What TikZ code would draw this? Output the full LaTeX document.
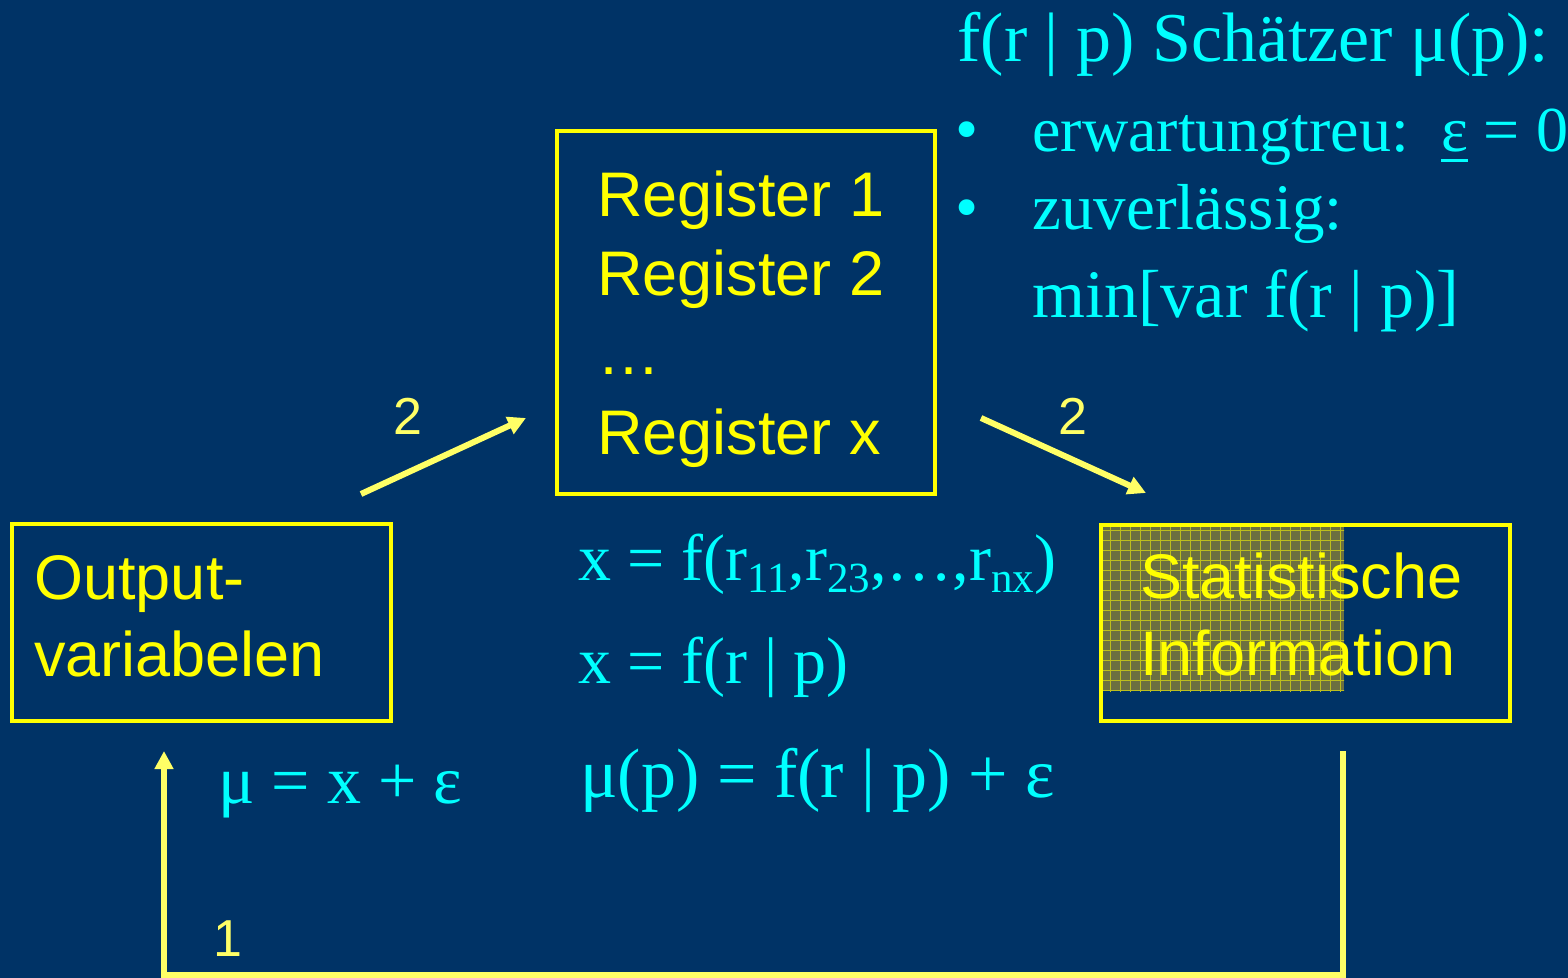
\documentclass[tikz,border=0pt]{standalone}
\usepackage{fontspec}
\setmainfont{Liberation Serif}
\newfontfamily\arial{Liberation Sans}
\usetikzlibrary{arrows.meta}
\definecolor{bg}{RGB}{0,51,102}
\definecolor{yel}{RGB}{255,255,0}
\definecolor{ayel}{RGB}{255,255,102}
\definecolor{cy}{RGB}{0,255,255}
\definecolor{hatch}{RGB}{108,112,64}
\newcommand{\fs}[1]{\fontsize{#1}{#1}\selectfont}
\newcommand{\sbs}[1]{\raisebox{-6pt}{\fs{21.5}#1}}
\newcommand{\ulin}[1]{\leavevmode\setbox0=\hbox{#1}\rlap{\rule[-5pt]{\wd0}{1.6pt}}\box0\relax}
\begin{document}
\begin{tikzpicture}[x=0.5pt,y=-0.5pt,
  box/.style={draw=yel,line width=2pt,inner sep=0pt},
  txt/.style={inner sep=0pt,anchor=base west},
  ytxt/.style={txt,text=yel,font=\arial\fs{31.5}},
  ctxt/.style={txt,text=cy},
  num/.style={txt,text=ayel,font=\arial\fs{26}},
  conn/.style={draw=ayel,line width=3pt,-{Triangle[length=9pt,width=9pt]}}]
\useasboundingbox (0,0) rectangle (1568,978);
\fill[bg] (0,0) rectangle (1568,978);
% highlight
\fill[hatch] (1103,527) rectangle (1344,691);
\begin{scope}
\clip (1103,527) rectangle (1344,691);
\draw[yel!55!hatch,line width=0.35pt,step=5pt] (1100,520) grid (1350,700);
\end{scope}
% boxes
\node[box,minimum width=189pt,minimum height=181.5pt] (reg) at (746,312.5) {};
\node[box,minimum width=189.5pt,minimum height=98.5pt] (out) at (201.5,622.5) {};
\node[box,minimum width=204.5pt,minimum height=98pt] (stat) at (1305.5,622.5) {};
% box texts
\node[ytxt] (r1) at (597,217) {Register 1};
\node[ytxt] (r2) at (597,296) {Register 2};
\node[ytxt] (r3) at (597,375) {…};
\node[ytxt] (r4) at (597,454) {Register x};
\node[ytxt] (o1) at (34,599) {Output-};
\node[ytxt] (o2) at (34,676) {variabelen};
\node[ytxt] (s1) at (1140,598) {Statistische};
\node[ytxt] (s2) at (1140,675) {Information};
% connectors
\coordinate (a1s) at (361,494);
\coordinate (a1e) at (526,418);
\coordinate (a2s) at (981,418);
\coordinate (a2e) at (1146,493);
\coordinate (fbs) at (1343,751);
\coordinate (fbc1) at (1343,975);
\coordinate (fbc2) at (164,975);
\coordinate (fbe) at (164,751);
\draw[conn] (a1s) -- (a1e);
\draw[conn] (a2s) -- (a2e);
\draw[conn] (fbs) -- (fbc1) -- (fbc2) -- (fbe);
\node[num] (n2a) at (393,435) {2};
\node[num] (n2b) at (1058,435) {2};
\node[num] (n1) at (213,956) {1};
% formulas
\node[ctxt,font=\fs{35}] (t0) at (957,62) {f(r | p) Schätzer μ(p):};
\node[ctxt,font=\fs{33}] (b1) at (955,152) {•};
\node[ctxt,font=\fs{32}] (t1) at (1032,152) {erwartungtreu:~~\ulin{ε} = 0};
\node[ctxt,font=\fs{33}] (b2) at (955,230) {•};
\node[ctxt,font=\fs{32.5}] (t2) at (1032,230) {zuverlässig:};
\node[ctxt,font=\fs{34}] (t3) at (1032,318) {min[var f(r | p)]};
\node[ctxt,font=\fs{33}] (f1) at (578,580) {x = f(r\sbs{11},r\sbs{23},…,r\sbs{nx})};
\node[ctxt,font=\fs{33}] (f2) at (578,683) {x = f(r | p)};
\node[ctxt,font=\fs{35}] (f3) at (580,797) {μ(p) = f(r | p) + ε};
\node[ctxt,font=\fs{34}] (f4) at (218,803) {μ = x + ε};
\end{tikzpicture}
\end{document}
